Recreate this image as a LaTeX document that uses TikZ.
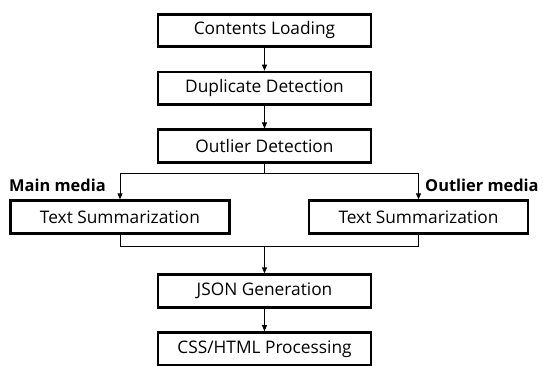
\documentclass[tikz,border=0pt]{standalone}
\usepackage{fontspec}
\setmainfont{Open Sans}
\usetikzlibrary{positioning,arrows.meta}

\begin{document}
\begin{tikzpicture}[x=1pt, y=-1pt,
        node distance=22.5pt,
        stage/.style={rectangle, draw=black, line width=2.8pt, minimum
        width=213pt, minimum height=32.5pt, inner sep=0pt,
        font=\fontsize{17.3}{20}\selectfont},
        branch/.style={stage, minimum width=219pt},
        flow/.style={-{Triangle[length=6pt, width=5pt]}, line width=0.9pt},
        link/.style={line width=0.9pt},
        tag/.style={font=\fontsize{16.4}{19}\selectfont\bfseries, inner sep=0pt},
      ]
      \useasboundingbox (0,0) rectangle (543,365);

      \node[stage] (load) at (264.5, 30.5) {Contents Loading};
      \node[stage, below=of load] (dup) {Duplicate Detection};
      \node[stage, below=of dup] (outl) {Outlier Detection};

      \node[branch] (mainsum) at (120, 217) {Text Summarization};
      \node[branch] (outsum) at (418.5, 217) {Text Summarization};

      \node[stage] (json) at (264.5, 291) {JSON Generation};
      \node[stage, below=of json] (css) {CSS/HTML Processing};

      \node[tag, anchor=west] (maintag) at (9, 185) {Main media};
      \node[tag, anchor=west] (outtag) at (425, 185) {Outlier media};

      \coordinate (split) at (264.5, 173);
      \coordinate (join) at (264.5, 246);

      \draw[flow] (load) -- (dup);
      \draw[flow] (dup) -- (outl);
      \draw[link] (outl) -- (split);
      \draw[flow] (split) -| (mainsum);
      \draw[flow] (split) -| (outsum);
      \draw[link] (mainsum) |- (join);
      \draw[link] (outsum) |- (join);
      \draw[flow] (join) -- (json);
      \draw[flow] (json) -- (css);
    \end{tikzpicture}
\end{document}
